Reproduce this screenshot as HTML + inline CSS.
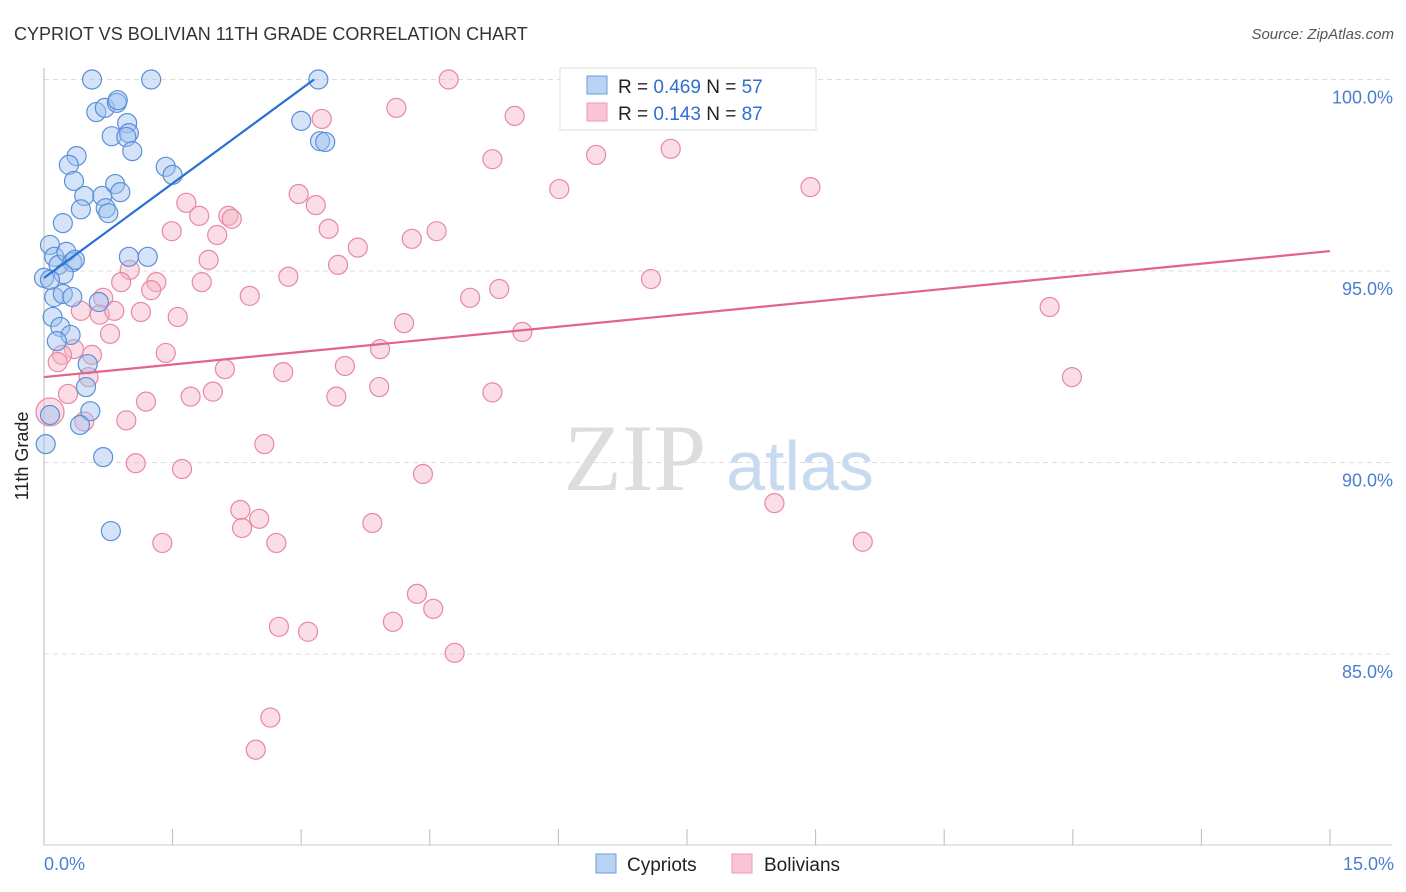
<!DOCTYPE html>
<html><head><meta charset="utf-8"><style>
body{margin:0;background:#fff;font-family:"Liberation Sans",sans-serif}
svg{display:block}
</style></head><body>
<svg id="chart" width="1406" height="892" xmlns="http://www.w3.org/2000/svg">
<text x="14" y="40" font-size="18" fill="#333">CYPRIOT VS BOLIVIAN 11TH GRADE CORRELATION CHART</text>
<text x="1394" y="39" font-size="15" fill="#555" font-style="italic" text-anchor="end">Source: ZipAtlas.com</text>
<g id="grid"></g>
<g><text x="635" y="490" font-size="95" font-family="Liberation Serif,serif" fill="#ddd" text-anchor="middle">ZIP</text><text x="800" y="490" font-size="70" fill="#c8daf0" text-anchor="middle">atlas</text></g>
<line x1="44" y1="68" x2="44" y2="845" stroke="#bbb"/>
<line x1="44" y1="845" x2="1392" y2="845" stroke="#ccc"/>
<g id="xticks"></g>
<text x="28" y="456" font-size="18" fill="#222" text-anchor="middle" transform="rotate(-90 28 456)">11th Grade</text>
<text x="44" y="870" font-size="18" fill="#4a7fd0">0.0%</text>
<text x="1394" y="870" font-size="18" fill="#4a7fd0" text-anchor="end">15.0%</text>
<g id="pink"></g>
<g id="blue"></g>
<g id="lines"></g>
<g>
<rect x="560" y="68" width="256" height="62" fill="#fff" stroke="#ddd"/>
<rect x="587" y="76" width="20" height="18" fill="#b9d3f5" stroke="#6a9de0"/>
<rect x="587" y="103" width="20" height="18" fill="#f9c5d5" stroke="#ec9ab4"/>
<text x="618" y="93" font-size="19" fill="#222">R = <tspan fill="#2f6fd0">0.469</tspan>   N = <tspan fill="#2f6fd0">57</tspan></text>
<text x="618" y="120" font-size="19" fill="#222">R =  <tspan fill="#2f6fd0">0.143</tspan>   N = <tspan fill="#2f6fd0">87</tspan></text>
</g>
<g>
<rect x="596" y="854" width="20" height="19" fill="#b9d3f5" stroke="#6a9de0"/>
<text x="627" y="871" font-size="19" fill="#222">Cypriots</text>
<rect x="732" y="854" width="20" height="19" fill="#f9c5d5" stroke="#ec9ab4"/>
<text x="764" y="871" font-size="19" fill="#222">Bolivians</text>
</g>
</svg>
<script>
const yTicks=[100,95,90,85];
const yTickLabels=["100.0%","95.0%","90.0%","85.0%"];
const xTicks=[0,1.5,3,4.5,6,7.5,9,10.5,12,13.5,15];
const blueX=[0.56,1.25,3.20,0.61,0.71,0.85,0.86,0.97,0.79,0.99,0.96,1.03,0.38,0.29,0.35,0.47,0.68,0.83,0.89,0.72,0.75,0.43,0.22,1.42,1.50,3.00,3.22,3.28,0.07,0.12,0.17,0.26,0.33,0.36,0.99,1.21,0.12,0.22,0.33,0.64,0.23,0.10,0.19,0.31,0.15,0.51,0.49,0.54,0.42,0.07,0.02,0.69,0.78,0.0,0.07];
const blueY=[100,100,100,99.15,99.26,99.39,99.46,98.86,98.52,98.60,98.50,98.13,98.00,97.77,97.35,96.96,96.96,97.27,97.06,96.64,96.51,96.61,96.25,97.72,97.51,98.92,98.39,98.37,95.68,95.37,95.16,95.50,95.23,95.29,95.37,95.37,94.32,94.40,94.32,94.19,94.92,93.80,93.54,93.33,93.17,92.57,91.97,91.34,90.98,91.24,90.48,90.14,88.21,94.82,94.77];
const pinkX=[4.72,6.37,8.10,4.11,5.49,3.24,5.23,6.44,7.31,6.01,8.94,2.97,3.17,1.66,1.81,1.49,2.15,2.19,2.02,3.32,3.66,4.29,4.58,3.43,1.92,1.00,2.85,1.84,0.90,1.31,1.25,2.40,4.97,5.31,7.08,0.69,0.43,0.65,0.82,1.13,1.56,4.20,5.58,0.77,11.73,0.35,0.56,0.21,0.16,1.42,3.92,3.51,2.11,2.79,11.99,0.52,0.28,1.19,1.71,1.97,3.41,3.91,5.23,0.47,0.96,2.57,1.07,1.61,4.42,8.52,2.29,2.51,2.31,3.83,1.38,2.71,9.55,4.35,4.54,2.74,3.08,4.07,4.79,2.64,2.47,0.07];
const pinkY=[100,100,100,99.26,99.05,98.97,97.92,98.03,98.19,97.14,97.19,97.01,96.72,96.78,96.44,96.04,96.44,96.36,95.94,96.10,95.61,95.84,96.04,95.16,95.29,95.03,94.85,94.71,94.71,94.71,94.50,94.35,94.30,94.53,94.79,94.30,93.96,93.86,93.96,93.93,93.80,93.64,93.41,93.36,94.06,92.96,92.81,92.81,92.62,92.86,92.96,92.52,92.44,92.36,92.23,92.23,91.79,91.59,91.72,91.85,91.72,91.97,91.83,91.07,91.10,90.48,89.98,89.83,89.70,88.94,88.76,88.53,88.29,88.42,87.90,87.90,87.93,86.57,86.18,85.71,85.58,85.84,85.03,83.34,82.50,91.32];
const blueTrend=[[0,94.82],[3.15,100]];
const pinkTrend=[[0,92.23],[15,95.52]];
const NS="http://www.w3.org/2000/svg";
const X=v=>44+v*(1286/15);
const Y=v=>79.5+(100-v)*38.3;
function mk(tag,attrs,parent){const e=document.createElementNS(NS,tag);for(const k in attrs)e.setAttribute(k,attrs[k]);parent.appendChild(e);return e;}
const grid=document.getElementById('grid');
yTicks.forEach((t,i)=>{
 const l=mk('line',{x1:44,x2:1392,y1:Y(t),y2:Y(t),stroke:'#ddd','stroke-dasharray':'5,4'},grid);
 
 
 const tx=mk('text',{x:1393,y:Y(t)+24,'font-size':18,fill:'#4a7fd0','text-anchor':'end'},grid);
 tx.textContent=yTickLabels[i];
 
 
});
const xt=document.getElementById('xticks');
xTicks.forEach(t=>{
 const l=mk('line',{x1:X(t),x2:X(t),y1:829,y2:845,stroke:'#bbb'},xt);
 
 
});
const pg=document.getElementById('pink');
pinkX.forEach((x,i)=>{
 const c=mk('circle',{cx:X(x),cy:Y(pinkY[i]),r:i==pinkX.length-1?14:9.5,fill:'#f5b3c8','fill-opacity':0.45,stroke:'#e8899f','stroke-width':1.2},pg);
 
 
});
const bg=document.getElementById('blue');
blueX.forEach((x,i)=>{
 const c=mk('circle',{cx:X(x),cy:Y(blueY[i]),r:9.5,fill:'#9fc2ef','fill-opacity':0.45,stroke:'#5a90d8','stroke-width':1.2},bg);
 
 
});
const lg=document.getElementById('lines');
const bl=mk('line',{x1:X(blueTrend[0][0]),y1:Y(blueTrend[0][1]),x2:X(blueTrend[1][0]),y2:Y(blueTrend[1][1]),stroke:'#2a6fd6','stroke-width':2.2},lg);


const pl=mk('line',{x1:X(pinkTrend[0][0]),y1:Y(pinkTrend[0][1]),x2:X(pinkTrend[1][0]),y2:Y(pinkTrend[1][1]),stroke:'#e4628e','stroke-width':2.2},lg);


</script>
</body></html>
